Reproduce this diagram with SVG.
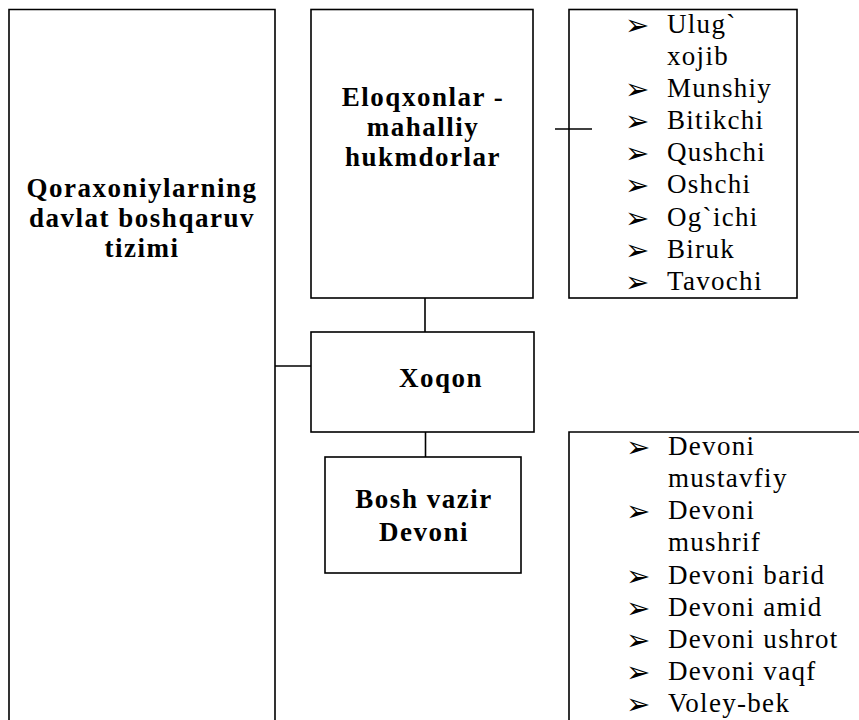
<svg xmlns="http://www.w3.org/2000/svg" width="859" height="720" viewBox="0 0 859 720">
<style>
.box{fill:#fff;stroke:#000;stroke-width:1.6}
.ln{stroke:#000;stroke-width:1.6;fill:none}
.b{font-family:"Liberation Serif","Times New Roman",serif;font-weight:bold;font-size:27px;letter-spacing:1.5px;text-anchor:middle;fill:#000}
.r{font-family:"Liberation Serif","Times New Roman",serif;font-size:27px;letter-spacing:1.3px;fill:#000}
.bl{font-family:"DejaVu Sans",sans-serif;font-size:29px;fill:#000}
</style>
<rect width="859" height="720" fill="#fff"/>
<g id="connectors">
<line class="ln" x1="275" y1="366" x2="311" y2="366"/>
<line class="ln" x1="425" y1="298" x2="425" y2="332"/>
<line class="ln" x1="425.5" y1="432" x2="425.5" y2="457"/>
<line class="ln" x1="555" y1="129" x2="592" y2="129"/>
</g>
<g id="node-root">
<path class="ln" d="M9,722 V9.5 H275 V722"/>
<text class="b" x="142" y="197">Qoraxoniylarning</text>
<text class="b" x="142" y="227">davlat boshqaruv</text>
<text class="b" x="142" y="257">tizimi</text>
</g>
<g id="node-eloqxonlar">
<rect class="box" x="311" y="9.5" width="222" height="288.5"/>
<text class="b" x="423" y="106">Eloqxonlar -</text>
<text class="b" x="423" y="136">mahalliy</text>
<text class="b" x="423" y="166">hukmdorlar</text>
</g>
<g id="node-officials">
<rect class="box" x="569" y="9.5" width="228" height="288.5" style="fill:none"/>
<g class="bl">
<text x="625" y="35">➢</text>
<text x="625" y="99">➢</text>
<text x="625" y="131">➢</text>
<text x="625" y="163">➢</text>
<text x="625" y="195">➢</text>
<text x="625" y="228">➢</text>
<text x="625" y="260">➢</text>
<text x="625" y="292">➢</text>
</g>
<g class="r">
<text x="667" y="33">Ulug`</text>
<text x="667" y="65">xojib</text>
<text x="667" y="97">Munshiy</text>
<text x="667" y="129">Bitikchi</text>
<text x="667" y="161">Qushchi</text>
<text x="667" y="193">Oshchi</text>
<text x="667" y="226">Og`ichi</text>
<text x="667" y="258">Biruk</text>
<text x="667" y="290">Tavochi</text>
</g>
</g>
<g id="node-xoqon">
<rect class="box" x="311" y="332" width="223" height="100"/>
<text class="b" x="441" y="387">Xoqon</text>
</g>
<g id="node-boshvazir">
<rect class="box" x="325" y="457" width="196" height="116"/>
<text class="b" x="424" y="508">Bosh vazir</text>
<text class="b" x="424" y="541">Devoni</text>
</g>
<g id="node-devonlar">
<path class="ln" d="M569,722 V432 H860"/>
<g class="bl">
<text x="626" y="457">➢</text>
<text x="626" y="521">➢</text>
<text x="626" y="586">➢</text>
<text x="626" y="618">➢</text>
<text x="626" y="650">➢</text>
<text x="626" y="682">➢</text>
<text x="626" y="714">➢</text>
</g>
<g class="r">
<text x="668" y="455">Devoni</text>
<text x="668" y="487">mustavfiy</text>
<text x="668" y="519">Devoni</text>
<text x="668" y="551">mushrif</text>
<text x="668" y="584">Devoni barid</text>
<text x="668" y="616">Devoni amid</text>
<text x="668" y="648">Devoni ushrot</text>
<text x="668" y="680">Devoni vaqf</text>
<text x="668" y="712">Voley-bek</text>
</g>
</g>
</svg>
